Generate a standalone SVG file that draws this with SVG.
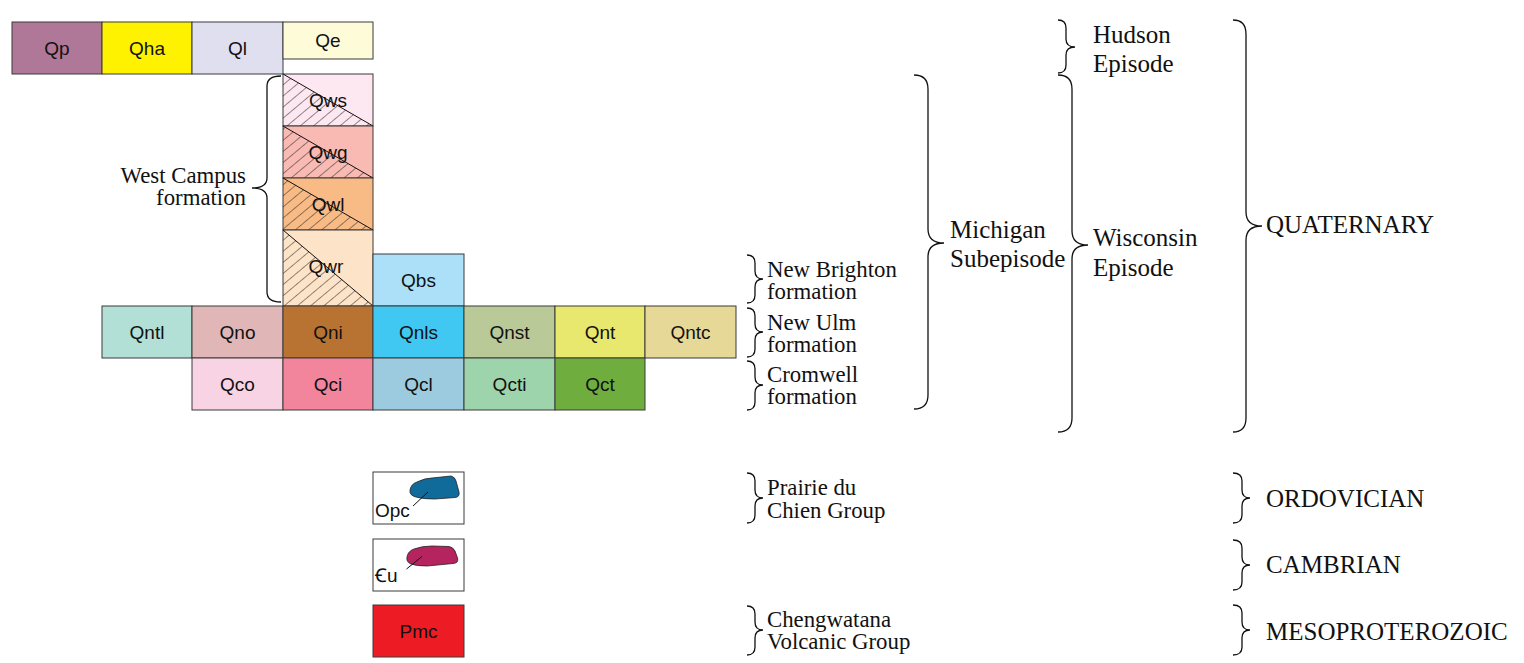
<svg xmlns="http://www.w3.org/2000/svg" width="1524" height="663" viewBox="0 0 1524 663">
<style>
.u{stroke:#3a3a3a;stroke-width:1}
.t{font-family:"Liberation Sans",Arial,sans-serif;font-size:19px;fill:#111;text-anchor:middle}
.tl{font-family:"Liberation Sans","DejaVu Sans",Arial,sans-serif;font-size:19px;fill:#111}
.s{font-family:"Liberation Serif","Times New Roman",serif;font-size:22.8px;fill:#111}
.m{font-family:"Liberation Serif","Times New Roman",serif;font-size:25px;fill:#111}
.b{fill:none;stroke:#111;stroke-width:1.3}
.h{fill:url(#hatch)}
.ld{stroke:#111;stroke-width:1}
</style>
<defs>
<pattern id="hatch" patternUnits="userSpaceOnUse" width="8.5" height="8.5" patternTransform="rotate(50)">
<line x1="0" y1="-1" x2="0" y2="10" stroke="#222" stroke-width="1"/>
</pattern>
</defs>
<rect width="1524" height="663" fill="#fff"/>

<g id="Qp"><rect class="u" x="12" y="22" width="90" height="52" fill="#b07898"/><text class="t" x="57" y="55">Qp</text></g>
<g id="Qha"><rect class="u" x="102" y="22" width="90" height="52" fill="#fff200"/><text class="t" x="147" y="55">Qha</text></g>
<g id="Ql"><rect class="u" x="192" y="22" width="91" height="52" fill="#e0dff0"/><text class="t" x="237.5" y="55">Ql</text></g>
<g id="Qe"><rect class="u" x="283" y="22" width="90" height="37" fill="#fefbd8"/><text class="t" x="328" y="47">Qe</text></g>

<g id="Qws"><rect class="u" x="283" y="74" width="90" height="52" fill="#fde7f0"/><polygon class="h" points="283,74 373,126 283,126"/><line class="ld" x1="283" y1="74" x2="373" y2="126"/><text class="t" x="328" y="107">Qws</text></g>
<g id="Qwg"><rect class="u" x="283" y="126" width="90" height="52" fill="#f8bab2"/><polygon class="h" points="283,126 373,178 283,178"/><line class="ld" x1="283" y1="126" x2="373" y2="178"/><text class="t" x="328" y="159">Qwg</text></g>
<g id="Qwl"><rect class="u" x="283" y="178" width="90" height="52" fill="#f9bb86"/><polygon class="h" points="283,178 373,230 283,230"/><line class="ld" x1="283" y1="178" x2="373" y2="230"/><text class="t" x="328" y="211">Qwl</text></g>
<g id="Qwr"><rect class="u" x="283" y="230" width="90" height="76" fill="#fde3c8"/><polygon class="h" points="283,230 373,306 283,306"/><line class="ld" x1="283" y1="230" x2="373" y2="306"/><text class="t" x="326" y="273">Qwr</text></g>
<g id="Qbs"><rect class="u" x="373" y="254" width="91" height="52" fill="#abe0f8"/><text class="t" x="418.5" y="287">Qbs</text></g>

<g id="Qntl"><rect class="u" x="102" y="306" width="90" height="52" fill="#b2dfd6"/><text class="t" x="147" y="339">Qntl</text></g>
<g id="Qno"><rect class="u" x="192" y="306" width="91" height="52" fill="#e0b6b6"/><text class="t" x="237.5" y="339">Qno</text></g>
<g id="Qni"><rect class="u" x="283" y="306" width="90" height="52" fill="#b87333"/><text class="t" x="328" y="339">Qni</text></g>
<g id="Qnls"><rect class="u" x="373" y="306" width="91" height="52" fill="#41c8f2"/><text class="t" x="418.5" y="339">Qnls</text></g>
<g id="Qnst"><rect class="u" x="464" y="306" width="91" height="52" fill="#b9c997"/><text class="t" x="509.5" y="339">Qnst</text></g>
<g id="Qnt"><rect class="u" x="555" y="306" width="90" height="52" fill="#e9e86e"/><text class="t" x="600" y="339">Qnt</text></g>
<g id="Qntc"><rect class="u" x="645" y="306" width="91" height="52" fill="#e6d896"/><text class="t" x="690.5" y="339">Qntc</text></g>

<g id="Qco"><rect class="u" x="192" y="358" width="91" height="52" fill="#f8d3e4"/><text class="t" x="237.5" y="391">Qco</text></g>
<g id="Qci"><rect class="u" x="283" y="358" width="90" height="52" fill="#f2849b"/><text class="t" x="328" y="391">Qci</text></g>
<g id="Qcl"><rect class="u" x="373" y="358" width="91" height="52" fill="#9ccbe0"/><text class="t" x="418.5" y="391">Qcl</text></g>
<g id="Qcti"><rect class="u" x="464" y="358" width="91" height="52" fill="#9dd4ab"/><text class="t" x="509.5" y="391">Qcti</text></g>
<g id="Qct"><rect class="u" x="555" y="358" width="90" height="52" fill="#70ad3f"/><text class="t" x="600" y="391">Qct</text></g>

<g id="Opc"><rect class="u" x="373" y="472" width="91" height="52" fill="#fff"/>
<path d="M410,490 Q411,484 417,482 Q425,478 432,478 L451,476 Q455,477 456,481 L459,492 Q460,497 455,497.5 L435,499 Q424,499 418,497.5 Q409,496 410,490 Z" fill="#106a9a" stroke="#222" stroke-width="0.8"/>
<line class="ld" x1="413" y1="506" x2="428" y2="492"/>
<text class="tl" x="375" y="517">Opc</text></g>
<g id="Cu"><rect class="u" x="373" y="539" width="91" height="52" fill="#fff"/>
<path d="M407,557 Q408,551 414,549 Q422,546 432,546 L449,546.5 Q453,547 455,551 L457.5,558 Q459,563 453,563.5 L427,566 Q416,566 411,564 Q406,562 407,557 Z" fill="#b5245e" stroke="#222" stroke-width="0.8"/>
<line class="ld" x1="406.5" y1="569" x2="422" y2="556.5"/>
<text class="tl" x="375" y="582">Ꞓu</text></g>
<g id="Pmc"><rect class="u" x="373" y="605" width="91" height="52" fill="#ed1c24"/><text class="t" x="418.5" y="638">Pmc</text></g>

<g id="braces">
<path class="b" d="M281,76 Q267,76 267,86 L267,178 Q267,188 252,188 Q267,188 267,198 L267,292 Q267,302 281,302"/>
<path class="b" d="M747,255 Q755,255 755,263 L755,271 Q755,279 763,279 Q755,279 755,287 L755,295 Q755,303 747,303"/>
<path class="b" d="M747,308 Q755,308 755,316 L755,324 Q755,332 763,332 Q755,332 755,340 L755,349 Q755,357 747,357"/>
<path class="b" d="M747,361 Q755,361 755,369 L755,377 Q755,385 763,385 Q755,385 755,393 L755,402 Q755,410 747,410"/>
<path class="b" d="M747,473 Q755,473 755,481 L755,490 Q755,498 763,498 Q755,498 755,506 L755,515 Q755,523 747,523"/>
<path class="b" d="M747,606 Q755,606 755,614 L755,622 Q755,630 763,630 Q755,630 755,638 L755,647 Q755,655 747,655"/>
<path class="b" d="M914,75 Q928,75 928,89 L928,229 Q928,243 944,243 Q928,243 928,257 L928,395 Q928,409 914,409"/>
<path class="b" d="M1058,20 Q1066,20 1066,28 L1066,39 Q1066,47 1075,47 Q1066,47 1066,55 L1066,65 Q1066,73 1058,73"/>
<path class="b" d="M1058,75 Q1072,75 1072,89 L1072,231 Q1072,245 1088,245 Q1072,245 1072,259 L1072,418 Q1072,432 1058,432"/>
<path class="b" d="M1233,20 Q1246,20 1246,34 L1246,212 Q1246,226 1262,226 Q1246,226 1246,240 L1246,418 Q1246,432 1233,432"/>
<path class="b" d="M1233,473 Q1242,473 1242,481 L1242,490 Q1242,498 1250,498 Q1242,498 1242,506 L1242,515 Q1242,523 1233,523"/>
<path class="b" d="M1233,540 Q1242,540 1242,548 L1242,557 Q1242,565 1250,565 Q1242,565 1242,573 L1242,582 Q1242,590 1233,590"/>
<path class="b" d="M1233,605 Q1242,605 1242,613 L1242,622 Q1242,630 1250,630 Q1242,630 1242,638 L1242,647 Q1242,655 1233,655"/>
</g>

<g id="labels">
<text class="s" x="246" y="183" text-anchor="end">West Campus</text>
<text class="s" x="246" y="205" text-anchor="end">formation</text>
<text class="s" x="767" y="277">New Brighton</text>
<text class="s" x="767" y="299">formation</text>
<text class="s" x="767" y="330">New Ulm</text>
<text class="s" x="767" y="352">formation</text>
<text class="s" x="767" y="382">Cromwell</text>
<text class="s" x="767" y="404">formation</text>
<text class="s" x="767" y="495">Prairie du</text>
<text class="s" x="767" y="518">Chien Group</text>
<text class="s" x="767" y="627">Chengwatana</text>
<text class="s" x="767" y="649">Volcanic Group</text>
<text class="m" x="950" y="238">Michigan</text>
<text class="m" x="950" y="267">Subepisode</text>
<text class="m" x="1093" y="43">Hudson</text>
<text class="m" x="1093" y="72">Episode</text>
<text class="m" x="1093" y="246">Wisconsin</text>
<text class="m" x="1093" y="276">Episode</text>
<text class="m" x="1266" y="233">QUATERNARY</text>
<text class="m" x="1266" y="507">ORDOVICIAN</text>
<text class="m" x="1266" y="573">CAMBRIAN</text>
<text class="m" x="1266" y="640">MESOPROTEROZOIC</text>
</g>
</svg>
